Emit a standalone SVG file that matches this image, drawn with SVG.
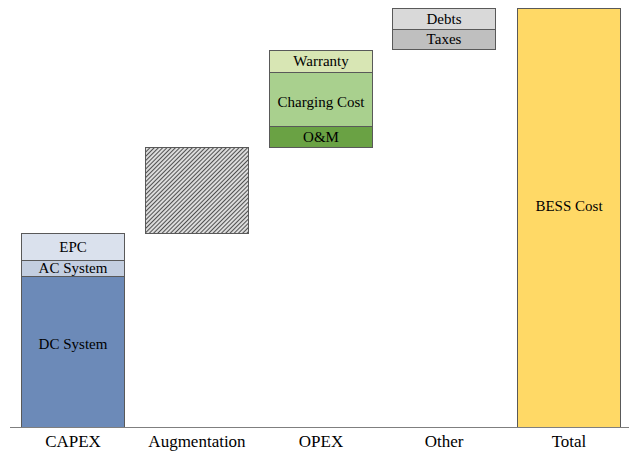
<svg xmlns="http://www.w3.org/2000/svg" width="629" height="454" viewBox="0 0 629 454">
  <defs>
    <pattern id="hatch" width="3" height="3" patternUnits="userSpaceOnUse" patternTransform="rotate(45)">
      <rect width="3" height="3" fill="#dcdcdc"/>
      <rect width="1" height="3" fill="#505050"/>
    </pattern>
  </defs>
  <style>
    .seg { stroke: #595959; stroke-width: 1; }
    .axis { stroke: #7f7f7f; stroke-width: 1.2; }
    text { font-family: "Liberation Serif", "DejaVu Serif", serif; font-size: 15px; text-anchor: middle; fill: #000000; }
    .cat { font-size: 17px; }
  </style>
  <rect width="629" height="454" fill="#ffffff"/>

  <g id="capex">
    <rect class="seg" x="21.5" y="233.5" width="103" height="27" fill="#dae1ed"/>
    <rect class="seg" x="21.5" y="260.5" width="103" height="16" fill="#c3cee0"/>
    <rect class="seg" x="21.5" y="276.5" width="103" height="151" fill="#6c8ab8"/>
    <text x="73" y="252">EPC</text>
    <text x="73" y="273">AC System</text>
    <text x="73" y="349">DC System</text>
  </g>

  <g id="augmentation">
    <rect class="seg" x="145.5" y="147.5" width="103" height="86" fill="url(#hatch)"/>
  </g>

  <g id="opex">
    <rect class="seg" x="269.5" y="50.5" width="103" height="22" fill="#d8e6b4"/>
    <rect class="seg" x="269.5" y="72.5" width="103" height="54" fill="#a9d08e"/>
    <rect class="seg" x="269.5" y="126.5" width="103" height="21" fill="#6aa244"/>
    <text x="321" y="66">Warranty</text>
    <text x="321" y="107">Charging Cost</text>
    <text x="321" y="142">O&amp;M</text>
  </g>

  <g id="other">
    <rect class="seg" x="392.5" y="8.5" width="103" height="21" fill="#d9d9d9"/>
    <rect class="seg" x="392.5" y="29.5" width="103" height="20" fill="#bfbfbf"/>
    <text x="444" y="24">Debts</text>
    <text x="444" y="44">Taxes</text>
  </g>

  <g id="total">
    <rect class="seg" x="517.5" y="8.5" width="103" height="419" fill="#ffd966"/>
    <text x="569" y="211">BESS Cost</text>
  </g>

  <g id="connectors">
    <line class="axis" x1="10" y1="427.5" x2="629" y2="427.5"/>
  </g>

  <g id="axis-labels">
    <text class="cat" x="73" y="447">CAPEX</text>
    <text class="cat" x="197" y="447">Augmentation</text>
    <text class="cat" x="321" y="447">OPEX</text>
    <text class="cat" x="444" y="447">Other</text>
    <text class="cat" x="569" y="447">Total</text>
  </g>
</svg>
